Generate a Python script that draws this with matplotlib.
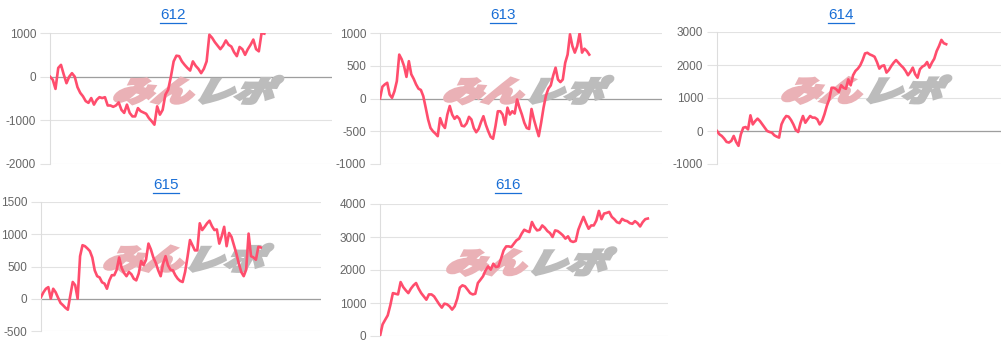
import matplotlib
matplotlib.use('Agg')
import matplotlib.pyplot as plt
from matplotlib.textpath import TextPath
from matplotlib.font_manager import FontProperties
from matplotlib.patches import PathPatch
from matplotlib.transforms import Affine2D
from matplotlib.lines import Line2D

plt.rcParams['axes.unicode_minus'] = False

# cumulative balance per machine
titles = ['612', '613', '614', '615', '616']

s612 = [0, -70, -280, 200, 270, 50, -150, 0, 80, 0, -240, -370, -450, -560, -600, -490,
        -640, -530, -470, -490, -470, -660, -660, -690, -660, -590, -760, -830, -640, -830,
        -910, -910, -720, -790, -820, -850, -950, -1020, -1100, -680, -870, -760, -410, -300,
        0, 350, 480, 470, 350, 270, 200, 140, 350, 250, 180, 80, 180, 350, 960, 890, 790,
        710, 630, 710, 830, 730, 690, 560, 470, 680, 630, 500, 630, 730, 850, 630, 580,
        1000, 985]

s613 = [0, 180, 215, 240, 60, 10, 110, 265, 670, 600, 495, 330, 570, 370, 300, 215, 150,
        130, 35, -140, -320, -450, -500, -535, -575, -300, -400, -450, -245, -115, -245,
        -310, -270, -310, -415, -425, -380, -280, -320, -450, -515, -465, -360, -270, -400,
        -500, -585, -615, -425, -195, -195, -245, -400, -140, -245, -195, -230, -15, -140,
        -245, -370, -450, -465, -160, -320, -450, -575, -370, -140, 45, 150, 200, 350, 470,
        290, 250, 290, 545, 670, 980, 800, 700, 800, 995, 700, 760, 725, 670]

s614 = [0, -100, -150, -230, -330, -350, -300, -150, -330, -450, -100, 100, 120, 50, 475,
        200, 300, 375, 300, 200, 100, 0, -30, -50, -130, -170, -200, 200, 355, 455, 435,
        335, 200, 30, -30, 250, 455, 250, 355, 455, 405, 405, 355, 200, 300, 505, 760, 960,
        1310, 1310, 1260, 1180, 1385, 1310, 1280, 1565, 1385, 1690, 1820, 1890, 1990, 2150,
        2350, 2370, 2320, 2290, 2250, 2090, 1890, 1970, 1990, 1770, 1850, 1970, 2070, 2150,
        2070, 1990, 1920, 1820, 1690, 1790, 1920, 1720, 1615, 1870, 1950, 1990, 2090, 1920,
        2070, 2190, 2420, 2575, 2760, 2660, 2630]

s615 = [25, 100, 155, 180, 0, 155, 100, 15, -65, -100, -140, -170, 50, 260, 210, 0, 660,
        830, 815, 780, 740, 640, 440, 350, 330, 255, 235, 155, 285, 365, 365, 450, 640, 480,
        400, 350, 415, 380, 310, 285, 390, 585, 520, 605, 855, 765, 640, 555, 440, 350, 545,
        660, 520, 450, 440, 365, 310, 275, 260, 415, 650, 910, 830, 750, 750, 1170, 1065,
        1115, 1170, 1210, 1125, 1065, 1075, 855, 970, 1115, 815, 1020, 960, 830, 700, 545,
        415, 350, 450, 1010, 660, 640, 605, 805, 795]

s616 = [0, 350, 490, 625, 930, 1300, 1280, 1260, 1635, 1485, 1385, 1300, 1435, 1535, 1605,
        1435, 1300, 1200, 1100, 1260, 1260, 1200, 1080, 960, 860, 980, 960, 900, 800, 900,
        1130, 1465, 1535, 1505, 1405, 1300, 1260, 1280, 1605, 1705, 1810, 1990, 2110, 2010,
        2190, 2090, 2110, 2345, 2595, 2715, 2715, 2695, 2800, 2900, 2950, 3100, 3220, 3180,
        3150, 3455, 3300, 3200, 3220, 3350, 3280, 3180, 3120, 3000, 3200, 3180, 3120, 3050,
        2950, 3020, 2880, 2850, 2880, 3220, 3420, 3610, 3420, 3250, 3350, 3350, 3500, 3790,
        3540, 3710, 3730, 3760, 3610, 3540, 3450, 3420, 3550, 3500, 3480, 3420, 3400, 3480,
        3420, 3320, 3450, 3540, 3560]

series = [s612, s613, s614, s615, s616]
yticks = [[-2000, -1000, 0, 1000], [-1000, -500, 0, 500, 1000], [-1000, 0, 1000, 2000, 3000],
          [-500, 0, 500, 1000, 1500], [0, 1000, 2000, 3000, 4000]]
# how far along the x axis each series reaches
filled = [0.76, 0.742, 0.807, 0.785, 0.93]

W, H = 1006, 342
# plot boxes in pixels: left, right, top, bottom ; title centre x
boxes = [(50, 332, 33, 164, 173), (380, 662, 33, 164, 503), (717, 1001, 32, 164, 841),
         (41, 321, 202, 331, 166), (380, 668, 204, 336, 508)]
title_y = [15, 15, 15, 185, 185]

fig = plt.figure(figsize=(W / 100, H / 100), dpi=100)
line_color = '#ff4d6d'
cjk = FontProperties(family='Noto Sans CJK JP', weight='heavy')

title_texts = []
for i in range(5):
    l, r, t, b, tx = boxes[i]
    ax = fig.add_axes([l / W, 1 - b / H, (r - l) / W, (b - t) / H])
    y = series[i]
    n = len(y)
    ax.set_xlim(0, (n - 1) / filled[i])
    ax.set_ylim(yticks[i][0], yticks[i][-1])
    ax.set_yticks(yticks[i])
    ax.set_xticks([])
    for sp in ['top', 'right', 'bottom']:
        ax.spines[sp].set_visible(False)
    ax.spines['left'].set_color('#dddddd')
    ax.grid(axis='y', color='#e2e2e2', lw=0.8)
    ax.set_axisbelow(True)
    if yticks[i][0] < 0:
        ax.axhline(0, color='#9e9e9e', lw=0.9, zorder=1)
    ax.tick_params(axis='y', length=7, color='#e2e2e2', labelsize=8.5,
                   labelcolor='#666666', pad=3)
    for lab in ax.get_yticklabels():
        lab.set_fontfamily('Liberation Sans')

    # watermark
    cx = (l + r) / 2
    cy = H - ((t + b) / 2 - 9)
    p1 = TextPath((0, 0), 'みん', size=40, prop=cjk)
    p2 = TextPath((0, 0), 'レポ', size=40, prop=cjk)
    w1 = p1.get_extents().width
    w2 = p2.get_extents().width
    gap = 4
    total = w1 + w2 + gap
    sk = Affine2D().skew_deg(22, 0).scale(1.0, 0.72)
    x0 = cx - total / 2 - 4
    y0 = cy - 12
    ax.add_patch(PathPatch(p1, transform=sk + Affine2D().translate(x0, y0),
                           facecolor='#eab1b6', edgecolor='#eab1b6', lw=2.2, zorder=1.5))
    ax.add_patch(PathPatch(p2, transform=sk + Affine2D().translate(x0 + w1 + gap, y0),
                           facecolor='#bcbcbc', edgecolor='#bcbcbc', lw=2.2, zorder=1.5))

    ax.plot(range(n), y, color=line_color, lw=1.9, zorder=3, solid_joinstyle='round')

    tt = fig.text(tx / W, 1 - title_y[i] / H, titles[i], ha='center', va='center',
                  fontsize=11, color='#1a6fd6', family='Liberation Sans')
    title_texts.append(tt)

# underline the titles like links
fig.canvas.draw()
rend = fig.canvas.get_renderer()
for tt in title_texts:
    bb = tt.get_window_extent(rend)
    yy = bb.y0 - 0.5
    fig.add_artist(Line2D([bb.x0 / W, bb.x1 / W], [yy / H, yy / H], color='#1a6fd6',
                          lw=0.9, transform=fig.transFigure))

fig.savefig('out.png', dpi=100)
